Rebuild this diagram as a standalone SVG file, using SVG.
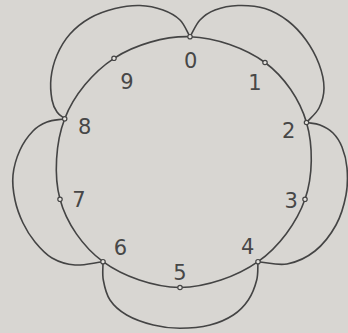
<svg xmlns="http://www.w3.org/2000/svg" width="348" height="333" viewBox="0 0 348 333">
<style>
.bg{fill:#d8d6d2}
.ln{fill:none;stroke:#444;stroke-width:1.6;stroke-linecap:round;stroke-linejoin:round}
.pt{fill:#e4e2de;stroke:#444;stroke-width:1.2}
.lb{font-family:"DejaVu Sans",sans-serif;font-size:21px;fill:#474747;text-anchor:middle}
</style>
<rect class="bg" x="0" y="0" width="348" height="333"/>
<g id="connectors">
<path id="ring" class="ln" d="M190,36.7 C215.17,37.4 245.58,48.2 265,62.5 S299.83,99.7 306.5,122.5 S313.08,176.1 305,199.3 S278.83,247 258,261.7 S205.83,287.5 180,287.5 S123,276.4 103,261.7 S66.38,223.12 60,199.3 S55.7,142.3 64.7,118.8 S93.12,71.98 114,58.3 S164.83,36 190,36.7 Z"/>
<path id="petal-0-8" class="ln" d="M190,36.7 C186.67,31.13 184.5,24.45 180,20 S169.67,12.42 163,10 S148,5.75 140,5.5 S123.33,6.42 115,8.5 S97.5,13.75 90,18 S75.5,27.83 70,34 S60.17,47.67 57,55 S51.83,70.5 51,78 S51,94.33 52,100 S54.88,108.87 57,112 S62.13,116.53 64.7,118.8"/>
<path id="petal-0-2" class="ln" d="M190,36.7 C193.33,31.13 195.83,24.45 200,20 S208.67,12.42 215,10 S229.67,5.75 238,5.5 S256.67,5.92 265,8.5 S281.17,15.75 288,21 S300.83,32.83 306,40 S316,56 319,64 S324,80.67 324,88 S321.92,102.25 319,108 S310.67,117.67 306.5,122.5"/>
<path id="petal-2-4" class="ln" d="M306.5,122.5 C311,123.33 315.58,123.25 320,125 S329.33,129.33 333,133 S339.67,141.17 342,147 S346.33,160 347,168 S347.83,185.5 346,195 S341.17,215.67 336,225 S323.17,244.5 315,251 S296.5,262.22 287,264 S267.67,262.470 258,261.7"/>
<path id="petal-4-6" class="ln" d="M258,261.7 C257.57,267.8 258.32,273.62 256.7,280 S252.2,294.17 248.3,300 S239.68,310.83 233.3,315 S218.88,322.78 210,325 S189.45,328.3 180,328.3 S162.18,327.22 153.3,325 S133.92,319.17 126.7,315 S113.9,305.83 110,300 S104.47,286.38 103.3,280 S103.1,267.8 103,261.7"/>
<path id="petal-6-8" class="ln" d="M103,261.7 C93.67,262.8 83.5,265.62 75,265 S58.67,261.83 52,258 S39.83,247.83 35,242 S26.33,230 23,223 S16.67,208 15,200 S12.17,183.33 13,175 S16.67,157.33 20,150 S28.5,135.67 33,131 S41.72,124.03 47,122 S58.8,119.87 64.7,118.8"/>
</g>
<g id="node-0"><circle class="pt" cx="190" cy="36.7" r="2.2"/><text class="lb" x="190.7" y="68">0</text></g>
<g id="node-1"><circle class="pt" cx="265" cy="62.5" r="2.2"/><text class="lb" x="255" y="90">1</text></g>
<g id="node-2"><circle class="pt" cx="306.5" cy="122.5" r="2.2"/><text class="lb" x="288.7" y="138">2</text></g>
<g id="node-3"><circle class="pt" cx="305" cy="199.3" r="2.2"/><text class="lb" x="291.3" y="207.5">3</text></g>
<g id="node-4"><circle class="pt" cx="258" cy="261.7" r="2.2"/><text class="lb" x="247.7" y="253.5">4</text></g>
<g id="node-5"><circle class="pt" cx="180" cy="287.5" r="2.2"/><text class="lb" x="180" y="279.5">5</text></g>
<g id="node-6"><circle class="pt" cx="103" cy="261.7" r="2.2"/><text class="lb" x="120.5" y="255">6</text></g>
<g id="node-7"><circle class="pt" cx="60" cy="199.3" r="2.2"/><text class="lb" x="79" y="207">7</text></g>
<g id="node-8"><circle class="pt" cx="64.7" cy="118.8" r="2.2"/><text class="lb" x="84.7" y="133.5">8</text></g>
<g id="node-9"><circle class="pt" cx="114" cy="58.3" r="2.2"/><text class="lb" x="127" y="89">9</text></g>
</svg>
